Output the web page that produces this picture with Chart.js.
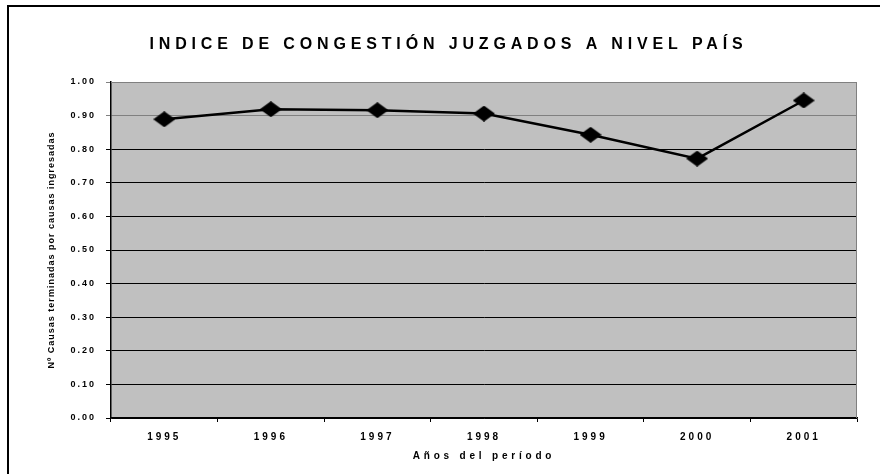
<!DOCTYPE html>
<html lang="es">
<head>
  <meta charset="UTF-8">
  <title>Indice de congestión juzgados a nivel país</title>
  <script src="https://cdn.jsdelivr.net/npm/chart.js@4/dist/chart.umd.min.js"></script>
  <style>
    html, body {
      margin: 0;
      padding: 0;
      background: #fff;
      overflow: hidden;
    }
    #wrap {
      position: relative;
      width: 880px;
      height: 474px;
    }
    #frame {
      position: absolute;
      left: 7px;
      top: 5px;
      width: 900px;
      height: 500px;
      border: 2px solid #000;
      pointer-events: none;
    }
  </style>
</head>
<body>
  <div id="wrap">
    <canvas id="myChart" width="880" height="474"></canvas>
    <div id="frame"></div>
  </div>

  <script>
    const years = ['1995', '1996', '1997', '1998', '1999', '2000', '2001'];
    const congestion = [0.889, 0.919, 0.916, 0.906, 0.843, 0.772, 0.945];
    const chartTitle = 'INDICE DE CONGESTIÓN JUZGADOS A NIVEL PAÍS';
    const xTitle = 'Años del período';
    const yTitle = 'Nº Causas terminadas por causas ingresadas';

    const FONT = 'Arial, "Liberation Sans", sans-serif';

    // diamond marker, a bit wider than tall like the original
    function makeDiamond(w, h) {
      const c = document.createElement('canvas');
      c.width = w;
      c.height = h;
      const g = c.getContext('2d');
      g.fillStyle = '#000';
      g.beginPath();
      g.moveTo(w / 2, 0);
      g.lineTo(w, h / 2);
      g.lineTo(w / 2, h);
      g.lineTo(0, h / 2);
      g.closePath();
      g.fill();
      return c;
    }

    // wraps a draw method so the text gets some letter spacing
    function spaced(obj, method, spacing, dx) {
      if (!obj || obj['_sp_' + method]) return;
      const orig = obj[method];
      obj[method] = function() {
        const ctx = this.ctx;
        ctx.save();
        ctx.letterSpacing = spacing;
        if (dx) ctx.translate(dx, 0);
        orig.apply(this, arguments);
        ctx.restore();
      };
      obj['_sp_' + method] = true;
    }

    const spacingPlugin = {
      id: 'spacing',
      afterLayout(chart) {
        spaced(chart.titleBlock, 'draw', '4.85px', 20);
        spaced(chart.scales.x, 'drawLabels', '3px');
        spaced(chart.scales.x, 'drawTitle', '3.8px');
        spaced(chart.scales.y, 'drawLabels', '2px');
        spaced(chart.scales.y, 'drawTitle', '1px');
      }
    };

    const plotBg = {
      id: 'plotBg',
      beforeDraw(chart) {
        const { ctx, chartArea: a } = chart;
        ctx.save();
        ctx.fillStyle = '#c0c0c0';
        ctx.fillRect(a.left, a.top, a.right - a.left, a.bottom - a.top);
        ctx.restore();
      },
      afterDatasetsDraw(chart) {
        const { ctx, chartArea: a } = chart;
        ctx.save();
        ctx.strokeStyle = '#808080';
        ctx.lineWidth = 1;
        ctx.beginPath();
        ctx.moveTo(a.left, a.top + 0.5);
        ctx.lineTo(a.right - 0.5, a.top + 0.5);
        ctx.lineTo(a.right - 0.5, a.bottom);
        ctx.stroke();
        ctx.restore();
      }
    };

    const ctx = document.getElementById('myChart').getContext('2d');
    const myChart = new Chart(ctx, {
      type: 'line',
      data: {
        labels: years,
        datasets: [{
          label: 'Indice de congestión',
          data: congestion,
          borderColor: '#000',
          borderWidth: 2.5,
          pointStyle: makeDiamond(22, 16),
          pointRadius: 8,
          tension: 0
        }]
      },
      options: {
        responsive: false,
        animation: false,
        layout: {
          padding: { left: 0, right: 23, top: 0, bottom: 0 }
        },
        plugins: {
          legend: { display: false },
          tooltip: { enabled: false },
          title: {
            display: true,
            text: chartTitle,
            color: '#000',
            font: { family: FONT, size: 16, weight: 'bold' },
            padding: { top: 35, bottom: 27.8 }
          }
        },
        scales: {
          x: {
            offset: true,
            afterFit(scale) { scale.height = 56; },
            grid: {
              display: true,
              drawOnChartArea: false,
              offset: true,
              tickLength: 4,
              color: '#000'
            },
            border: { color: '#000', width: 1.5 },
            ticks: {
              color: '#000',
              padding: 9,
              font: { family: FONT, size: 10, weight: 'bold' }
            },
            title: {
              display: true,
              text: xTitle,
              color: '#000',
              font: { family: FONT, size: 10, weight: 'bold' },
              padding: { top: 0, bottom: 12 }
            }
          },
          y: {
            min: 0,
            max: 1,
            afterFit(scale) { scale.width = 111; },
            grid: {
              tickLength: 5,
              color: (c) => (c.tick && c.tick.value >= 0.9 ? '#808080' : '#000')
            },
            border: { color: '#000', width: 1.5 },
            ticks: {
              stepSize: 0.1,
              color: '#000',
              padding: 10,
              font: { family: FONT, size: 9, weight: 'bold' },
              callback: (v) => Number(v).toFixed(2)
            },
            title: {
              display: true,
              text: yTitle,
              color: '#000',
              font: { family: FONT, size: 9, weight: 'bold' },
              padding: { top: 45.9, bottom: 0 }
            }
          }
        }
      },
      plugins: [spacingPlugin, plotBg]
    });
  </script>
</body>
</html>
